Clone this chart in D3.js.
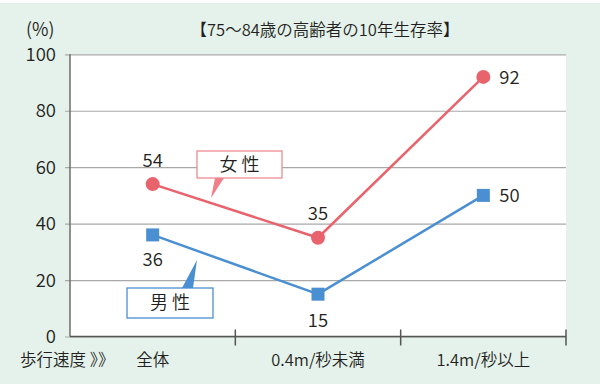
<!DOCTYPE html>
<html><head><meta charset="utf-8">
<script src="https://cdn.jsdelivr.net/npm/d3@7"></script>
<style>body{margin:0;background:#fff}svg{display:block}text{font-family:"Noto Sans CJK JP","Noto Sans",sans-serif;fill:#231f20;font-weight:350}</style>
</head><body><svg id="c" width="600" height="384"></svg>
<script>
const categories = ["全体", "0.4m/秒未満", "1.4m/秒以上"];
const female = [54, 35, 92];
const male = [36, 15, 50];
const yTicks = [0, 20, 40, 60, 80, 100];
const title = "【75～84歳の高齢者の10年生存率】";
const unitLabel = "(%)";
const axisTitle = "歩行速度 》》";
const femaleName = "女 性";
const maleName = "男 性";

const svg = d3.select("#c");
svg.append("rect").attr("x",0).attr("y",3).attr("width",600).attr("height",381).attr("fill","#e5f1eb");

const L=70, R=566, T=54.3, B=336.5;
const x = d3.scaleBand().domain(categories).range([L,R]);
const y = d3.scaleLinear().domain([0,100]).range([B,T]);
const cx = d => x(d)+x.bandwidth()/2;

svg.append("rect").attr("x",L).attr("y",T).attr("width",R-L).attr("height",B-T).attr("fill","#fff");

// grid
const yAxis = d3.axisLeft(y).tickValues(yTicks).tickSize(-(R-L)).tickFormat("");
const gy = svg.append("g").attr("transform",`translate(${L},0)`).call(yAxis);
gy.select(".domain").remove();
gy.selectAll("line").attr("stroke","#a8a8a8").attr("stroke-width",1.2).attr("x1",-5);
// y labels
svg.append("g").selectAll("text").data(yTicks).join("text")
  .attr("x",56).attr("y",d=>y(d)).attr("dy","0.36em").attr("text-anchor","end")
  .attr("font-size",18.5).text(d=>d);
// left axis
svg.append("line").attr("x1",L).attr("x2",L).attr("y1",T).attr("y2",B).attr("stroke","#6d6d6d").attr("stroke-width",1.5);
// bottom axis
svg.append("line").attr("x1",L).attr("x2",R).attr("y1",B).attr("y2",B).attr("stroke","#555").attr("stroke-width",1.5);
const bounds = categories.slice(1).map(c=>x(c)).concat([R]);
svg.append("g").selectAll("line").data(bounds).join("line")
  .attr("x1",d=>d).attr("x2",d=>d).attr("y1",B-7).attr("y2",B+9).attr("stroke","#555").attr("stroke-width",1.5);
// x labels
svg.append("g").selectAll("text").data(categories).join("text")
  .attr("x",d=>cx(d)).attr("y",360).attr("dy","0.35em").attr("text-anchor","middle")
  .attr("font-size",16.5).text(d=>d);
svg.append("text").attr("x",20).attr("y",360).attr("dy","0.35em").attr("font-size",16.5).text(axisTitle);
svg.append("text").attr("x",26).attr("y",30).attr("dy","0.35em").attr("font-size",18).text(unitLabel);
svg.append("text").attr("x",325).attr("y",30).attr("dy","0.35em").attr("text-anchor","middle").attr("font-size",16.5).text(title);

const red="#e9636c", blue="#4a8fd1";
const line = d3.line().x((d,i)=>cx(categories[i])).y(d=>y(d));
svg.append("path").datum(female).attr("d",line).attr("fill","none").attr("stroke",red).attr("stroke-width",2.5);
svg.append("path").datum(male).attr("d",line).attr("fill","none").attr("stroke",blue).attr("stroke-width",2.5);
svg.append("g").selectAll("circle").data(female).join("circle")
  .attr("cx",(d,i)=>cx(categories[i])).attr("cy",d=>y(d)).attr("r",7).attr("fill",red);
svg.append("g").selectAll("rect").data(male).join("rect")
  .attr("x",(d,i)=>cx(categories[i])-6.5).attr("y",d=>y(d)-6.5).attr("width",13).attr("height",13).attr("fill",blue);

// value labels
const fpos = [[0,-24,"middle"],[0,-24,"middle"],[16,0,"start"]];
const mpos = [[0,24,"middle"],[0,26,"middle"],[16,0,"start"]];
svg.append("g").selectAll("text").data(female).join("text")
  .attr("x",(d,i)=>cx(categories[i])+fpos[i][0]).attr("y",(d,i)=>y(d)+fpos[i][1]).attr("dy","0.36em")
  .attr("text-anchor",(d,i)=>fpos[i][2]).attr("font-size",18.5).text(d=>d);
svg.append("g").selectAll("text").data(male).join("text")
  .attr("x",(d,i)=>cx(categories[i])+mpos[i][0]).attr("y",(d,i)=>y(d)+mpos[i][1]).attr("dy","0.36em")
  .attr("text-anchor",(d,i)=>mpos[i][2]).attr("font-size",18.5).text(d=>d);

// callouts
svg.append("path").attr("d","M215,178 L224,178 L211,198 Z").attr("fill","#ef7f88");
svg.append("rect").attr("x",197).attr("y",151).attr("width",85).attr("height",27).attr("fill","#fff").attr("stroke","#ee8a92").attr("stroke-width",1.3);
svg.append("text").attr("x",239.5).attr("y",164.5).attr("dy","0.36em").attr("text-anchor","middle").attr("font-size",18).text(femaleName);
svg.append("path").attr("d","M182,288 L193,288 L197,260 Z").attr("fill",blue);
svg.append("rect").attr("x",127).attr("y",288).attr("width",86).attr("height",30).attr("fill","#fff").attr("stroke",blue).attr("stroke-width",1.3);
svg.append("text").attr("x",170).attr("y",303).attr("dy","0.36em").attr("text-anchor","middle").attr("font-size",18).text(maleName);
</script></body></html>
